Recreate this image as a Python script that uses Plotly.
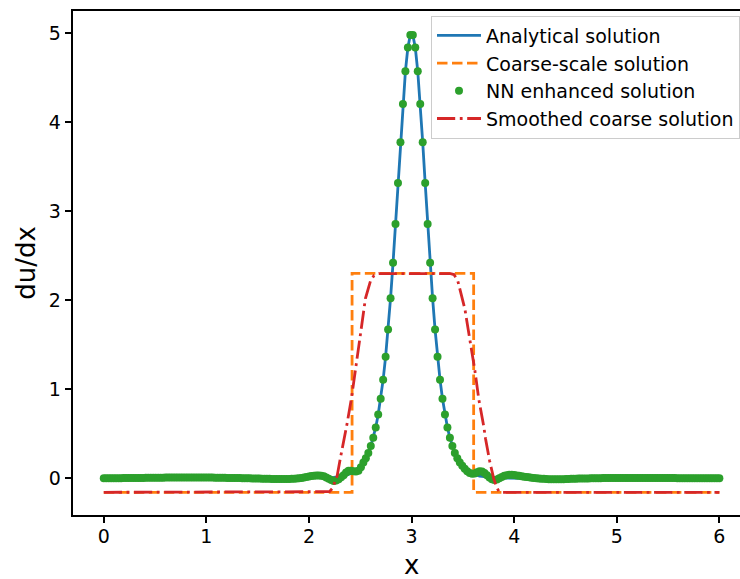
import numpy as np
import plotly.graph_objects as go

# Sample grid shared by the analytical and NN curves
x = np.linspace(0.0, 6.0, 250)

# Analytical du/dx (sharp peak at x = 3)
analytical = (
    [0.0] * 83
    + [0.001, 0.001, 0.001, 0.002, 0.002, 0.003, 0.004, 0.005, 0.006, 0.008,
       0.010, 0.013, 0.016, 0.021, 0.026, 0.034, 0.043, 0.054, 0.069, 0.088,
       0.111, 0.141, 0.179, 0.227, 0.286, 0.362, 0.456, 0.572, 0.717, 0.894,
       1.109, 1.367, 1.671, 2.024, 2.422, 2.858, 3.317, 3.777, 4.207, 4.573,
       4.840, 4.982]
    + [4.982, 4.840, 4.573, 4.207, 3.777, 3.317, 2.858, 2.422, 2.024, 1.671,
       1.367, 1.109, 0.894, 0.717, 0.572, 0.456, 0.362, 0.286, 0.227, 0.179,
       0.141, 0.111, 0.088, 0.069, 0.054, 0.043, 0.034, 0.026, 0.021, 0.016,
       0.013, 0.010, 0.008, 0.006, 0.005, 0.004, 0.003, 0.002, 0.002, 0.001,
       0.001, 0.001]
    + [0.0] * 83
)

# NN enhanced du/dx on the same grid
nn_enhanced = [
    0.000, 0.000, 0.001, 0.001, 0.001, 0.002, 0.002, 0.002, 0.003, 0.003,
    0.003, 0.004, 0.004, 0.004, 0.005, 0.005, 0.005, 0.006, 0.006, 0.006,
    0.006, 0.007, 0.007, 0.007, 0.007, 0.008, 0.008, 0.008, 0.008, 0.008,
    0.009, 0.009, 0.009, 0.009, 0.009, 0.009, 0.009, 0.009, 0.009, 0.009,
    0.009, 0.008, 0.008, 0.008, 0.008, 0.007, 0.007, 0.007, 0.006, 0.006,
    0.005, 0.005, 0.004, 0.004, 0.003, 0.003, 0.002, 0.001, 0.001, 0.000,
    -0.001, -0.002, -0.002, -0.003, -0.004, -0.005, -0.005, -0.006, -0.007, -0.007,
    -0.008, -0.008, -0.008, -0.008, -0.008, -0.007, -0.006, -0.004, -0.002, 0.001,
    0.005, 0.010, 0.016, 0.021, 0.026, 0.029, 0.031, 0.032, 0.030, 0.022,
    0.010, -0.005, -0.020, -0.030, -0.025, -0.010, 0.012, 0.035, 0.065, 0.085,
    0.086, 0.080, 0.076, 0.085, 0.125, 0.179, 0.227, 0.286, 0.362, 0.456,
    0.572, 0.717, 0.894, 1.109, 1.367, 1.671, 2.024, 2.422, 2.858, 3.317,
    3.777, 4.207, 4.573, 4.840, 4.982, 4.982, 4.840, 4.573, 4.207, 3.777,
    3.317, 2.858, 2.422, 2.024, 1.671, 1.367, 1.109, 0.894, 0.717, 0.572,
    0.456, 0.362, 0.286, 0.227, 0.179, 0.141, 0.108, 0.080, 0.060, 0.052,
    0.055, 0.068, 0.080, 0.078, 0.060, 0.035, 0.010, -0.010, -0.018, -0.012,
    0.002, 0.016, 0.028, 0.036, 0.040, 0.040, 0.037, 0.033, 0.029, 0.024,
    0.019, 0.015, 0.011, 0.007, 0.004, 0.001, -0.002, -0.004, -0.006, -0.008,
    -0.009, -0.010, -0.010, -0.010, -0.010, -0.009, -0.009, -0.008, -0.007, -0.006,
    -0.005, -0.004, -0.003, -0.003, -0.002, -0.001, -0.001, 0.000, 0.001, 0.001,
    0.002, 0.002, 0.003, 0.003, 0.003, 0.004, 0.004, 0.004, 0.005, 0.005,
    0.005, 0.005, 0.005, 0.005, 0.005, 0.005, 0.005, 0.005, 0.005, 0.005,
    0.005, 0.005, 0.004, 0.004, 0.004, 0.004, 0.004, 0.003, 0.003, 0.003,
    0.003, 0.003, 0.002, 0.002, 0.002, 0.002, 0.002, 0.001, 0.001, 0.001,
    0.001, 0.001, 0.001, 0.000, 0.000, 0.000, 0.000, 0.000, 0.000, 0.000,
]
assert len(analytical) == len(x) == len(nn_enhanced)

# Piecewise-constant coarse-scale solution (three coarse elements)
coarse_x = [0.0, 2.42, 2.42, 3.605, 3.605, 6.0]
coarse_y = [-0.157, -0.157, 2.303, 2.303, -0.157, -0.157]

# Smoothed coarse solution
smooth_x = [0.0, 2.15, 2.20, 2.23, 2.252, 2.275, 2.30, 2.323, 2.34, 2.372,
            2.414, 2.453, 2.502, 2.55, 2.60, 2.634, 2.68, 3.38, 3.413, 3.45,
            3.52, 3.567, 3.597, 3.616, 3.655, 3.672, 3.704, 3.72, 3.76, 3.80,
            3.825, 3.85, 3.88, 6.0]
smooth_y = [-0.157, -0.157, -0.150, -0.110, -0.045, 0.03, 0.19, 0.32, 0.43, 0.62,
            0.90, 1.24, 1.62, 2.02, 2.22, 2.28, 2.30, 2.30, 2.29, 2.22,
            1.90, 1.565, 1.37, 1.22, 0.89, 0.79, 0.58, 0.45, 0.20, 0.0,
            -0.09, -0.145, -0.157, -0.157]

BLUE, ORANGE, GREEN, RED = "#1f77b4", "#ff7f0e", "#2ca02c", "#d62728"
FONT = "DejaVu Sans"
LW = 2.8

fig = go.Figure()
fig.add_trace(go.Scatter(x=x, y=analytical, mode="lines", name="Analytical solution",
                         legendgroup="a", line=dict(color=BLUE, width=LW)))
fig.add_trace(go.Scatter(x=coarse_x, y=coarse_y, mode="lines", name="Coarse-scale solution",
                         legendgroup="b",
                         line=dict(color=ORANGE, width=LW, dash="10.5px,4.5px")))
fig.add_trace(go.Scatter(x=x, y=nn_enhanced, mode="markers", name="NN enhanced solution",
                         legendgroup="c",
                         marker=dict(color=GREEN, size=8, line=dict(width=0))))
fig.add_trace(go.Scatter(x=smooth_x, y=smooth_y, mode="lines", name="Smoothed coarse solution",
                         legendgroup="d",
                         line=dict(color=RED, width=LW, dash="18.2px,4.6px,2.8px,4.6px")))

axis_common = dict(
    showline=True, linecolor="black", linewidth=1.5,
    ticks="outside", ticklen=6.6, tickwidth=1.5, tickcolor="black",
    showgrid=False, zeroline=False,
    tickfont=dict(family=FONT, size=19, color="black"),
)
fig.update_xaxes(range=[-0.3, 6.201], tickvals=[0, 1, 2, 3, 4, 5, 6], mirror=True,
                 ticklabelstandoff=-3, **axis_common)
fig.update_yaxes(range=[-0.412, 5.251], tickvals=[0, 1, 2, 3, 4, 5], mirror=False,
                 **axis_common)

fig.add_annotation(text="x", xref="x", yref="paper", x=3.0, y=-0.0995,
                   xanchor="center", yanchor="middle", showarrow=False,
                   font=dict(family=FONT, size=26, color="black"))
fig.add_annotation(text="du/dx", xref="paper", yref="paper", x=-0.071, y=0.5,
                   xanchor="center", yanchor="middle", textangle=-90, showarrow=False,
                   font=dict(family=FONT, size=26, color="black"))

fig.update_layout(
    width=740, height=579,
    margin=dict(l=73, r=0, t=11, b=64),
    paper_bgcolor="white", plot_bgcolor="white",
    font=dict(family=FONT, color="black"),
    showlegend=True,
    legend=dict(
        x=1.0, xanchor="right", y=0.991, yanchor="top",
        bgcolor="rgba(255,255,255,0.8)", bordercolor="#cccccc", borderwidth=1,
        font=dict(family=FONT, size=19, color="black"),
        tracegroupgap=0, itemwidth=44,
    ),
)

fig.write_html("out.html")
